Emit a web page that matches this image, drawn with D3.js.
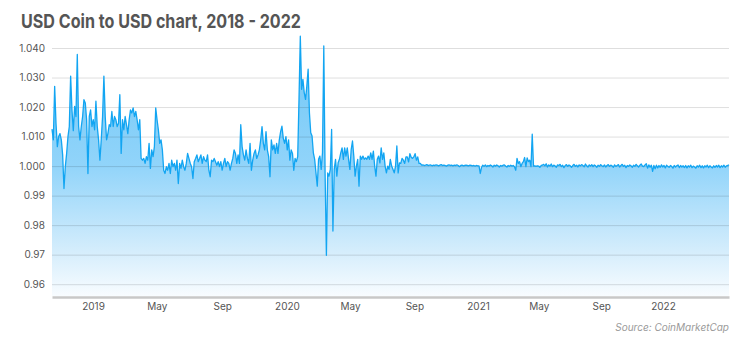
<!DOCTYPE html>
<html>
<head>
<meta charset="utf-8">
<script src="https://cdnjs.cloudflare.com/ajax/libs/d3/7.8.5/d3.min.js"></script>
<style>
body { margin: 0; background: #fff; }
text { font-family: Inter, "Noto Sans", sans-serif; }
</style>
</head>
<body>
<script>
// one price every 60 hours, starting mid October 2018
var startDate = new Date(2018, 9, 16);
var stepHours = 60;

var prices2018_19 = [
  1.0125, 1.0089, 1.0270, 1.0145, 1.0066, 1.0100, 1.0110, 1.0089, 1.0038, 0.9924,
  0.9998, 1.0043, 1.0100, 1.0134, 1.0305, 1.0190, 1.0120, 1.0202, 1.0168, 1.0378,
  1.0134, 1.0089, 1.0134, 1.0168, 1.0225, 1.0214, 1.0157, 0.9975, 1.0168, 1.0190,
  1.0134, 1.0157, 1.0123, 1.0220, 1.0134, 1.0089, 1.0020, 1.0089, 1.0168, 1.0305,
  1.0168, 1.0089, 1.0110, 1.0140, 1.0134, 1.0185, 1.0134, 1.0168, 1.0157, 1.0134,
  1.0145, 1.0242, 1.0043, 1.0157, 1.0123, 1.0168, 1.0140, 1.0110, 1.0157, 1.0190,
  1.0180, 1.0197, 1.0168, 1.0185, 1.0157, 1.0123, 1.0157, 1.0026, 1.0020, 1.0026,
  1.0009, 1.0032, 1.0020, 1.0077, 0.9992, 1.0055, 1.0032, 1.0066, 1.0197, 1.0157,
  1.0123, 1.0077, 1.0089, 1.0055, 0.9986, 0.9975, 0.9998, 0.9986, 1.0009, 0.9975,
  1.0020, 0.9998, 1.0009, 0.9986, 1.0020, 0.9941, 1.0009, 0.9992, 1.0020, 0.9998,
  0.9986, 1.0009, 1.0043, 1.0026, 1.0009, 0.9998, 0.9958, 1.0015, 1.0026, 1.0038,
  1.0015, 1.0026, 1.0038, 1.0009, 1.0032, 1.0020, 1.0015, 1.0038, 0.9986, 0.9964,
  1.0020, 1.0015, 1.0026, 1.0015, 1.0003, 1.0015, 0.9998, 1.0015, 0.9986, 1.0009,
  1.0026, 0.9998, 1.0015, 1.0009, 0.9986, 1.0009, 1.0026, 1.0055, 1.0043, 1.0009,
  1.0038, 1.0009, 1.0140, 1.0066, 1.0038, 1.0020, 1.0055, 1.0026, 1.0009, 1.0077,
  0.9986, 1.0020, 1.0043, 1.0055, 1.0026, 1.0038, 1.0055, 1.0089, 1.0134, 1.0077,
  1.0055, 1.0117, 1.0055, 1.0032, 0.9964, 1.0089, 1.0055, 1.0072, 1.0043, 1.0077,
  1.0043, 1.0089, 1.0117, 1.0135, 1.0094, 1.0077, 1.0100
];

var prices2020 = [
  1.0055, 1.0089, 1.0020, 1.0055, 1.0043, 0.9986, 1.0026, 1.0015, 1.0032, 1.0226,
  1.0440, 1.0260, 1.0294, 1.0249, 1.0226, 1.0271, 1.0328, 1.0180, 1.0113, 1.0102,
  1.0045, 1.0023, 0.9977, 0.9932, 1.0023, 1.0034, 0.9989, 1.0045, 1.0407, 0.9977,
  0.9698, 0.9977, 0.9966, 0.9989, 1.0124, 0.9780, 0.9989, 1.0023, 0.9966, 1.0011,
  1.0023, 1.0045, 1.0062, 1.0023, 1.0062, 1.0034, 1.0062, 1.0023, 0.9989, 1.0056,
  1.0085, 1.0034, 0.9966, 1.0000, 1.0023, 0.9932, 1.0034, 1.0023, 1.0034, 1.0023,
  1.0028, 1.0023, 1.0034, 1.0023, 1.0045, 1.0023, 1.0051, 1.0000, 0.9966, 1.0023,
  1.0034, 1.0011, 1.0062, 1.0023, 1.0045, 1.0000, 0.9977, 1.0000, 0.9989, 1.0023,
  1.0000, 0.9989, 0.9977, 1.0000, 1.0068, 0.9977, 1.0011, 1.0009, 1.0026, 1.0020,
  1.0009, 1.0031, 1.0031, 1.0014, 1.0042, 1.0030, 1.0026, 1.0031, 1.0042, 1.0020,
  1.0031, 1.0009, 1.0009, 1.0003, 1.0004, 1.0002, 1.0003, 1.0005, 1.0002, 1.0003,
  1.0004, 1.0001, 1.0003, 1.0002, 1.0004, 1.0003, 1.0001, 1.0003, 1.0005, 1.0002,
  1.0003, 1.0002, 1.0000, 1.0003, 1.0004, 1.0002, 1.0003, 1.0001, 1.0003, 1.0002,
  1.0004, 1.0002, 0.9998, 1.0002, 1.0003, 1.0001, 1.0002, 1.0003, 1.0002, 1.0001,
  1.0003, 1.0002, 1.0001, 1.0002, 1.0000, 1.0002, 1.0001
];

var prices2021_22 = [
  1.0001, 0.9975, 0.9996, 1.0003, 0.9999, 1.0004, 0.9998, 1.0002, 1.0000, 1.0004,
  1.0001, 0.9997, 1.0003, 1.0000, 1.0004, 1.0001, 0.9997, 1.0002, 1.0000, 1.0003,
  1.0004, 1.0000, 0.9997, 1.0002, 0.9999, 1.0003, 1.0000, 1.0002, 0.9998, 0.9986,
  1.0026, 1.0009, 1.0015, 0.9998, 1.0009, 1.0015, 1.0029, 0.9998, 1.0028, 1.0015,
  1.0020, 0.9998, 1.0108, 1.0000, 1.0001, 0.9999, 1.0001, 1.0000, 0.9996, 1.0002,
  1.0003, 1.0006, 1.0001, 1.0008, 0.9997, 1.0004, 1.0000, 1.0007, 0.9998, 1.0003,
  1.0001, 0.9996, 1.0004, 1.0002, 1.0006, 0.9998, 1.0003, 0.9995, 1.0002, 1.0005,
  0.9999, 1.0004, 1.0001, 0.9996, 1.0002, 1.0006, 0.9999, 1.0003, 0.9997, 1.0004,
  1.0001, 1.0005, 1.0002, 0.9998, 1.0007, 1.0001, 0.9997, 1.0004, 1.0000, 1.0005,
  0.9998, 1.0004, 1.0001, 0.9996, 1.0003, 0.9999, 1.0005, 1.0001, 0.9998, 1.0004,
  0.9997, 1.0002, 1.0005, 0.9999, 1.0003, 1.0001, 0.9996, 1.0004, 0.9999, 1.0002,
  1.0005, 0.9997, 1.0002, 1.0006, 0.9999, 1.0003, 0.9995, 1.0002, 0.9999, 1.0004,
  1.0001, 0.9996, 1.0003, 0.9999, 1.0006, 1.0001, 0.9997, 1.0003, 1.0007, 1.0000,
  0.9998, 1.0004, 1.0008, 0.9993, 1.0004, 0.9996, 1.0003, 0.9982, 1.0002, 0.9991,
  1.0003, 0.9994, 1.0002, 0.9996, 1.0004, 0.9997, 1.0002, 0.9994, 1.0003, 0.9999,
  0.9996, 1.0002, 0.9999, 0.9993, 1.0002, 0.9997, 1.0001, 1.0004, 0.9995, 1.0002,
  0.9997, 1.0001, 0.9995, 1.0002, 0.9994, 1.0001, 0.9997, 1.0003, 0.9995, 1.0000,
  0.9997, 0.9993, 1.0001, 0.9997, 1.0003, 0.9995, 1.0001, 0.9994, 1.0001, 0.9997,
  1.0003, 0.9995, 1.0001, 0.9997, 0.9994, 1.0001, 0.9996, 1.0002, 0.9997, 1.0003,
  0.9995, 1.0001, 0.9997, 1.0003, 0.9996, 1.0001, 1.0002, 1.0004
];

var xTickDates = [
  new Date(2019, 0, 1), new Date(2019, 4, 1), new Date(2019, 8, 1),
  new Date(2020, 0, 1), new Date(2020, 4, 1), new Date(2020, 8, 1),
  new Date(2021, 0, 1), new Date(2021, 4, 1), new Date(2021, 8, 1),
  new Date(2022, 0, 1)
];
var xTickLabels = ["2019", "May", "Sep", "2020", "May", "Sep", "2021", "May", "Sep", "2022"];

var yTicks = [0.96, 0.97, 0.98, 0.99, 1.00, 1.01, 1.02, 1.03, 1.04];
var yTickLabels = ["0.96", "0.97", "0.98", "0.99", "1.000", "1.010", "1.020", "1.030", "1.040"];

var width = 750;
var height = 352;
var plotLeft = 52, plotRight = 729, plotTop = 48, plotBottom = 296;

var prices = prices2018_19.concat(prices2020, prices2021_22);
var data = prices.map(function(v, i) {
    return { date: d3.timeHour.offset(startDate, i * stepHours), value: v };
});
var endDate = data[data.length - 1].date;

var svg = d3.select("body")
    .append("svg")
        .attr("width", width)
        .attr("height", height);

// the time axis in the picture is not evenly spaced per year
var x = d3.scaleTime()
    .domain([startDate, xTickDates[0], xTickDates[3], xTickDates[6], xTickDates[9], endDate])
    .range([plotLeft, 93, 287, 478, 663, plotRight]);

var y = d3.scaleLinear()
    .domain([0.956, 1.04])
    .range([plotBottom, plotTop]);

var grad = svg.append("defs").append("linearGradient")
    .attr("id", "fill")
    .attr("gradientUnits", "userSpaceOnUse")
    .attr("x1", 0).attr("x2", 0)
    .attr("y1", 35).attr("y2", plotBottom);
grad.append("stop").attr("offset", 0).attr("stop-color", "rgb(110,198,245)");
grad.append("stop").attr("offset", 0.5).attr("stop-color", "rgb(145,212,250)");
grad.append("stop").attr("offset", 0.84).attr("stop-color", "rgb(215,238,252)");
grad.append("stop").attr("offset", 1).attr("stop-color", "rgb(248,252,255)");

var area = d3.area()
    .x(function(d) { return x(d.date); })
    .y0(plotBottom)
    .y1(function(d) { return y(d.value); });

var line = d3.line()
    .x(function(d) { return x(d.date); })
    .y(function(d) { return y(d.value); });

svg.append("path")
    .datum(data)
    .attr("d", area)
    .attr("fill", "url(#fill)");

// y axis with grid lines on top of the area
var leftAxis = d3.axisLeft(y)
    .tickValues(yTicks)
    .tickFormat(function(d, i) { return yTickLabels[i]; })
    .tickSize(-(plotRight - plotLeft))
    .tickPadding(7);
var gy = svg.append("g")
    .attr("class", "left axis")
    .attr("transform", "translate(" + plotLeft + ",0)")
    .call(leftAxis);
gy.select(".domain").remove();
gy.selectAll("line")
    .attr("stroke", "rgba(0,0,0,0.13)")
    .attr("stroke-width", 1);
gy.selectAll("text")
    .attr("font-size", "10px")
    .attr("fill", "#555");

svg.append("path")
    .datum(data)
    .attr("d", line)
    .attr("fill", "none")
    .attr("stroke", "#12a5f2")
    .attr("stroke-width", 1.3)
    .attr("stroke-linejoin", "round");

var bottomAxis = d3.axisBottom(x)
    .tickValues(xTickDates)
    .tickFormat(function(d, i) { return xTickLabels[i]; })
    .tickSize(0)
    .tickPadding(6);
var gx = svg.append("g")
    .attr("class", "bottom axis")
    .attr("transform", "translate(0," + (plotBottom + 1) + ")")
    .call(bottomAxis);
gx.select(".domain")
    .attr("stroke", "#c8c8c8")
    .attr("stroke-width", 2.5);
gx.selectAll("text")
    .attr("font-size", "10px")
    .attr("fill", "#555");

svg.append("text")
    .attr("x", 21)
    .attr("y", 28)
    .attr("font-size", "19px")
    .attr("font-weight", 700)
    .attr("textLength", 280)
    .attr("lengthAdjust", "spacingAndGlyphs")
    .style("fill", "#555")
    .text("USD Coin to USD chart, 2018 - 2022");

svg.append("text")
    .attr("x", plotRight)
    .attr("y", 331)
    .attr("text-anchor", "end")
    .attr("font-size", "10px")
    .attr("font-style", "italic")
    .style("fill", "#9a9a9a")
    .text("Source: CoinMarketCap");
</script>
</body>
</html>
